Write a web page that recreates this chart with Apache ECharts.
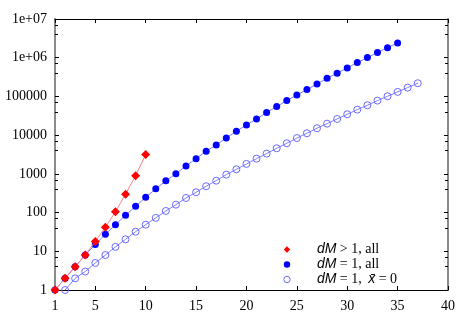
<!DOCTYPE html>
<html><head><meta charset="utf-8">
<script src="https://cdn.jsdelivr.net/npm/echarts@6/dist/echarts.min.js"></script>
<style>html,body{margin:0;padding:0;background:#fff}#c{width:458px;height:321px}</style>
</head><body><div id="c"></div>
<script>
const xTicks = [1, 5, 10, 15, 20, 25, 30, 35, 40];
const yTickLabels = {1: '1', 10: '10', 100: '100', 1000: '1000', 10000: '10000', 100000: '100000', 1000000: '1e+06', 10000000: '1e+07'};

const redX = [1, 2, 3, 4, 5, 6, 7, 8, 9, 10];
const redY = [1, 2, 4, 8, 18, 42, 105, 298, 898, 3140];

const blueX = [1,2,3,4,5,6,7,8,9,10,11,12,13,14,15,16,17,18,19,20,21,22,23,24,25,26,27,28,29,30,31,32,33,34,35];
const blueY = [1,2,4,8,15,27.5,48.7,85,145,248,410,660,1010,1600,2470,3840,5580,8470,12600,18350,26200,38200,54600,78000,109000,150000,210000,295000,398000,545000,747000,1007000,1355000,1820000,2410000];

const openX = [2,3,4,5,6,7,8,9,10,11,12,13,14,15,16,17,18,19,20,21,22,23,24,25,26,27,28,29,30,31,32,33,34,35,36,37];
const openY = [1,2,3,5,8,13,20.4,32,48.7,73,110,160,238,334,479,667,955,1313,1803,2470,3324,4580,6170,8400,11200,15100,19800,26200,34600,45600,59200,78000,101000,131000,169000,219000];

const legendNames = ['dM > 1, all', 'dM = 1, all', 'dM = 1, xbar = 0'];
const legendRich = {
  'dM > 1, all': '{i|dM} {s|> 1, all}',
  'dM = 1, all': '{i|dM} {s|= 1, all}',
  'dM = 1, xbar = 0': '{i|dM} {s|= 1,}  {i|x\u0304} {s|= 0}'
};

const pairs = (xs, ys) => xs.map((x, i) => [x, ys[i]]);
const serif = 'Liberation Serif';
const sans = 'Liberation Sans';

const chart = echarts.init(document.getElementById('c'), null, {renderer: 'canvas'});
chart.setOption({
  animation: false,
  backgroundColor: '#fff',
  grid: {left: 55, right: 9, top: 19, bottom: 31, containLabel: false},
  legend: {
    data: [
      {name: legendNames[0]},
      {name: legendNames[1]},
      {name: legendNames[2], itemStyle: {borderWidth: 1, borderColor: '#6a6aff', color: 'rgba(255,255,255,0)'}}
    ],
    orient: 'vertical',
    left: 261, top: 242, padding: 0,
    itemWidth: 50, itemHeight: 8, itemGap: 0,
    lineStyle: {opacity: 0},
    formatter: n => legendRich[n],
    textStyle: {
      lineHeight: 15,
      rich: {
        i: {fontFamily: sans, fontStyle: 'italic', fontSize: 14, lineHeight: 15, color: '#000'},
        s: {fontFamily: serif, fontSize: 14, lineHeight: 15, color: '#000'}
      }
    }
  },
  xAxis: [{
    type: 'value', min: 1, max: 40, position: 'bottom',
    axisLine: {show: true, lineStyle: {color: '#000', width: 1}},
    axisTick: {show: true, inside: true, length: 4, customValues: xTicks, lineStyle: {color: '#000'}},
    axisLabel: {customValues: xTicks, fontFamily: serif, fontSize: 14, color: '#000', margin: 9},
    splitLine: {show: false}
  }, {
    type: 'value', min: 1, max: 40, position: 'top',
    axisLine: {show: true, onZero: false, lineStyle: {color: '#000', width: 1}},
    axisTick: {show: true, inside: true, length: 4, customValues: xTicks, lineStyle: {color: '#000'}},
    axisLabel: {show: false},
    splitLine: {show: false}
  }],
  yAxis: [{
    type: 'log', logBase: 10, min: 1, max: 10000000, interval: 1, position: 'left',
    axisLine: {show: true, lineStyle: {color: '#8a8a8a', width: 2}},
    axisTick: {show: true, inside: true, length: 4, lineStyle: {color: '#000'}},
    minorTick: {show: true, splitNumber: 3, length: 3, lineStyle: {color: '#000'}},
    axisLabel: {fontFamily: serif, fontSize: 14, color: '#000', margin: 8,
      formatter: v => yTickLabels[Math.round(v)] || ''},
    splitLine: {show: false}
  }, {
    type: 'log', logBase: 10, min: 1, max: 10000000, interval: 1, position: 'right',
    axisLine: {show: true, onZero: false, lineStyle: {color: '#8a8a8a', width: 2}},
    axisTick: {show: true, inside: true, length: 4, lineStyle: {color: '#000'}},
    minorTick: {show: true, splitNumber: 3, length: 3, lineStyle: {color: '#000'}},
    axisLabel: {show: false},
    splitLine: {show: false}
  }],
  series: [{
    name: legendNames[0], type: 'line', data: pairs(redX, redY), z: 5,
    symbol: 'diamond', symbolSize: 9, clip: false,
    itemStyle: {color: '#ff0000'},
    lineStyle: {color: '#ff8080', width: 1}
  }, {
    name: legendNames[1], type: 'line', data: pairs(blueX, blueY), z: 3,
    symbol: 'circle', symbolSize: 7, clip: false,
    itemStyle: {color: '#0000ff'},
    lineStyle: {color: '#8080ff', width: 1}
  }, {
    name: legendNames[2], type: 'line', data: pairs(openX, openY), z: 2,
    symbol: 'circle', symbolSize: 7, clip: false,
    itemStyle: {color: 'rgba(255,255,255,0)', borderColor: '#6a6aff', borderWidth: 1},
    lineStyle: {color: '#8080ff', width: 1}
  }]
});
</script></body></html>
